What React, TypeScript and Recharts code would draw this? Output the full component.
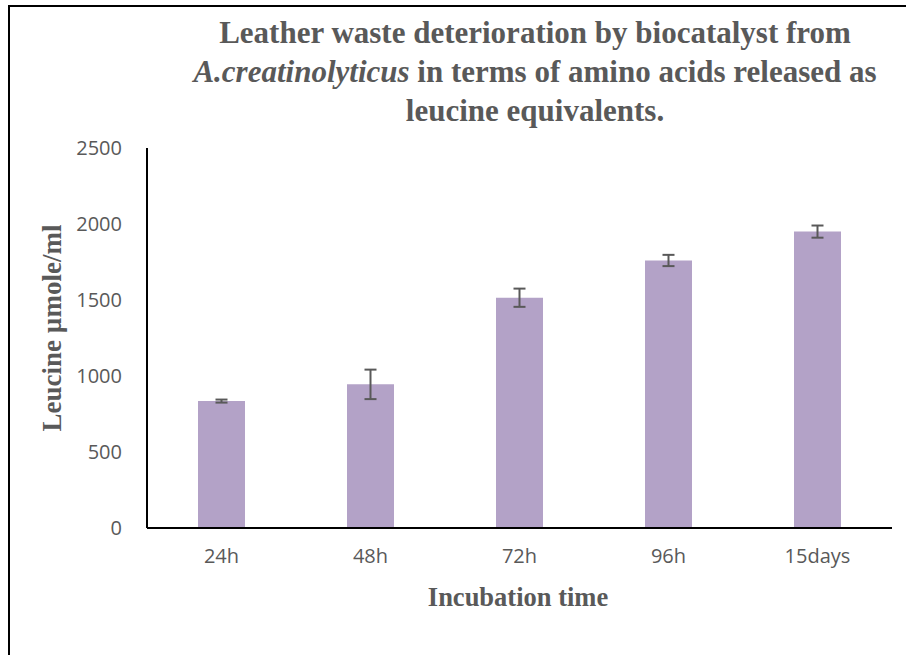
import { BarChart, Bar, XAxis, YAxis, ErrorBar } from "recharts";

const categories = ["24h", "48h", "72h", "96h", "15days"];
const leucine = [835, 945, 1515, 1760, 1950];
const deviation = [10, 97, 60, 37, 40];
const yTicks = [0, 500, 1000, 1500, 2000, 2500];

const grey = "#595959";
const serif = "'Liberation Serif', 'Times New Roman', serif";

const data = categories.map((c, i) => ({
  time: c,
  value: leucine[i],
  err: deviation[i],
}));

export default function App() {
  return (
    <div
      style={{
        position: "fixed",
        left: 8,
        top: 5,
        width: 898,
        height: 650,
        boxSizing: "border-box",
        borderLeft: "2px solid #000",
        borderTop: "2px solid #000",
        background: "#fff",
      }}
    >
      {/* title */}
      <div
        style={{
          position: "absolute",
          left: 0,
          width: 1050,
          top: 6,
          textAlign: "center",
          fontFamily: serif,
          fontWeight: "bold",
          fontSize: 31,
          lineHeight: "39px",
          color: grey,
        }}
      >
        Leather waste deterioration by biocatalyst from
        <br />
        <i>A.creatinolyticus</i> in terms of amino acids released as
        <br />
        leucine equivalents.
      </div>

      <BarChart
        width={888}
        height={643}
        data={data}
        margin={{ top: 141, right: 6, bottom: 82, left: 77 }}
      >
        <XAxis
          dataKey="time"
          height={40}
          axisLine={{ stroke: "#000", strokeWidth: 2 }}
          tickLine={false}
          tickSize={0}
          tickMargin={21}
          tick={{ fill: grey, fontSize: 20, fontFamily: "'Open Sans'" }}
        />
        <YAxis
          width={60}
          domain={[0, 2500]}
          ticks={yTicks}
          axisLine={{ stroke: "#000", strokeWidth: 2 }}
          tickLine={false}
          tickSize={0}
          tickMargin={25}
          tick={{ fill: grey, fontSize: 20, fontFamily: "'Open Sans'" }}
        />
        <Bar dataKey="value" fill="#b3a2c7" barSize={47} isAnimationActive={false}>
          <ErrorBar dataKey="err" width={6} strokeWidth={2} stroke={grey} isAnimationActive={false} />
        </Bar>
      </BarChart>

      {/* axis titles */}
      <div
        style={{
          position: "absolute",
          left: 508,
          top: 590,
          transform: "translate(-50%, -50%)",
          whiteSpace: "nowrap",
          fontFamily: serif,
          fontWeight: "bold",
          fontSize: 26.5,
          lineHeight: 1,
          color: grey,
        }}
      >
        Incubation time
      </div>
      <div
        style={{
          position: "absolute",
          left: 42,
          top: 321,
          transform: "translate(-50%, -50%) rotate(-90deg)",
          whiteSpace: "nowrap",
          fontFamily: serif,
          fontWeight: "bold",
          fontSize: 27,
          lineHeight: 1,
          color: grey,
        }}
      >
        Leucine µmole/ml
      </div>
    </div>
  );
}
